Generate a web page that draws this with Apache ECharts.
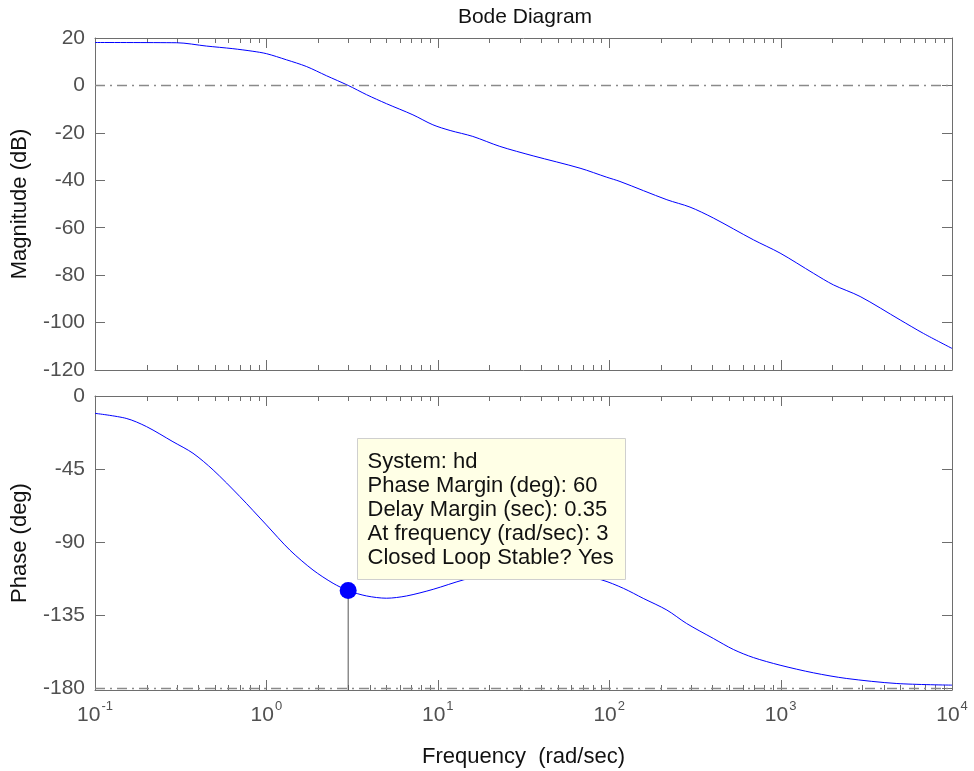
<!DOCTYPE html>
<html>
<head>
<meta charset="utf-8">
<script src="https://cdn.jsdelivr.net/npm/echarts@6/dist/echarts.min.js"></script>
<style>
html,body{margin:0;padding:0;background:#fff;}
#chart{width:974px;height:771px;}
</style>
</head>
<body>
<div id="chart"></div>
<script>
// ---- data ----
const magFreq = [0.1, 0.3, 0.447, 0.637, 0.834, 1, 1.31, 1.71, 2.24, 3, 3.84, 5.02, 7.16, 9.36, 11.8, 16, 23, 36, 67.6, 96.7, 115.6, 217, 296, 405, 694, 993, 1553, 2032, 2911, 4986, 6823, 10000];
const magDb   = [18.1, 18.0, 16.6, 15.5, 14.4, 13.4, 10.8, 8.0, 4.1, 0, -3.9, -7.7, -12.4, -16.6, -19, -21.5, -25.7, -29.7, -34.9, -38.7, -40.5, -48.2, -51.3, -55.9, -65.1, -70.7, -79.2, -84.1, -89.0, -98.9, -104.6, -110.9];
const phaseFreq = [0.1, 0.152, 0.2, 0.285, 0.373, 0.489, 0.7, 1, 1.37, 1.87, 2.45, 3, 3.84, 5.02, 6.58, 9.4, 14.1, 23, 34.4, 51.5, 90.4, 121, 158, 217, 283, 405, 530, 694, 993, 1553, 2432, 4764, 10000];
const phaseDeg  = [-10.7, -13.8, -18.9, -28.2, -35.3, -45.6, -62, -79.5, -95, -107.3, -115.5, -120, -123.3, -124.7, -123.3, -119.2, -113.4, -108, -106, -107.5, -113.4, -118.6, -124.8, -132, -140.3, -149.5, -156.3, -161.3, -166, -170.7, -174.2, -177.3, -178.3];
const marginPoint = [3, -120];
const magTicks = [20, 0, -20, -40, -60, -80, -100, -120];
const phaseTicks = [0, -45, -90, -135, -180];
const phaseAxisMin = -181.3; // MATLAB ylim sits slightly below -180
const freqDecades = [0.1, 1, 10, 100, 1000, 10000];
const decadeExponents = ['-1', '0', '1', '2', '3', '4'];
const infoLines = ['System: hd', 'Phase Margin (deg): 60', 'Delay Margin (sec): 0.35', 'At frequency (rad/sec): 3', 'Closed Loop Stable? Yes'];

// minor tick positions (2..9 within each decade)
const minorFreqs = [];
for (let e = -1; e <= 3; e++) for (let m = 2; m <= 9; m++) minorFreqs.push(+(m * Math.pow(10, e)).toPrecision(3));

const FONT = '"Liberation Sans", Arial, sans-serif';
const FRAME = '#6e6e6e';
const LABEL = '#505050';
const DASHDOT = [10, 5, 2, 5];

const chart = echarts.init(document.getElementById('chart'));

function xAx(gridIndex, position, showLabel) {
  return {
    type: 'log', logBase: 10, gridIndex, position, min: 0.1, max: 10000,
    axisLine: { show: true, onZero: false, lineStyle: { color: FRAME, width: 1 } },
    axisTick: { show: false },
    splitLine: { show: false },
    axisLabel: showLabel ? {
      show: true, margin: 10, fontFamily: FONT,
      formatter: function (v) {
        const idx = freqDecades.findIndex(d => Math.abs(Math.log10(d) - Math.log10(v)) < 1e-6);
        return idx >= 0 ? '{b|10}{s|' + decadeExponents[idx] + '}' : '';
      },
      rich: {
        b: { fontSize: 21, color: LABEL, fontFamily: FONT, lineHeight: 26, verticalAlign: 'bottom' },
        s: { fontSize: 13, color: LABEL, fontFamily: FONT, lineHeight: 26, verticalAlign: 'top', padding: [0, 0, 0, 1] }
      }
    } : { show: false },
    name: showLabel ? 'Frequency  (rad/sec)' : '',
    nameLocation: 'middle', nameGap: 56,
    nameTextStyle: { fontSize: 22, color: '#111', fontFamily: FONT }
  };
}
function yAx(gridIndex, position, min, max, ticks, name) {
  const left = position === 'left';
  return {
    type: 'value', gridIndex, position, min, max,
    axisLine: { show: true, onZero: false, lineStyle: { color: FRAME, width: 1 } },
    axisTick: { show: true, inside: true, length: 10, customValues: ticks, lineStyle: { color: FRAME } },
    splitLine: { show: false },
    axisLabel: left ? { show: true, margin: 10, fontSize: 21, color: LABEL, fontFamily: FONT, customValues: ticks } : { show: false },
    name: left ? name : '', nameLocation: 'middle', nameGap: 64,
    nameTextStyle: { fontSize: 22, color: '#111', fontFamily: FONT }
  };
}
function xTicks(xi, yi, yMin, yMax) {
  const items = minorFreqs.map(f => [f, yMin, 5]).concat(freqDecades.map(f => [f, yMin, 10]));
  return {
    type: 'custom', xAxisIndex: xi, yAxisIndex: yi, silent: true, clip: false, z: 1,
    data: items, encode: { x: 0, y: 1 },
    renderItem: function (params, api) {
      const f = api.value(0);
      const len = api.value(2);
      const b = api.coord([f, yMin]);
      const t = api.coord([f, yMax]);
      const x = Math.round(b[0]) + 0.5;
      return {
        type: 'group', children: [
          { type: 'line', shape: { x1: x, y1: b[1], x2: x, y2: b[1] - len }, style: { stroke: FRAME, lineWidth: 1 } },
          { type: 'line', shape: { x1: x, y1: t[1], x2: x, y2: t[1] + len }, style: { stroke: FRAME, lineWidth: 1 } }
        ]
      };
    }
  };
}

const option = {
  backgroundColor: '#ffffff',
  animation: false,
  title: { text: 'Bode Diagram', left: 520, textAlign: 'center', top: 2, textStyle: { fontSize: 21, fontWeight: 'normal', color: '#111', fontFamily: FONT } },
  grid: [
    { left: 95, right: 22, top: 38, height: 332 },
    { left: 95, right: 22, top: 396, height: 294 }
  ],
  xAxis: [xAx(0, 'bottom', false), xAx(0, 'top', false), xAx(1, 'bottom', true), xAx(1, 'top', false)],
  yAxis: [
    yAx(0, 'left', magTicks[magTicks.length - 1], magTicks[0], magTicks, 'Magnitude (dB)'),
    yAx(0, 'right', magTicks[magTicks.length - 1], magTicks[0], magTicks, ''),
    yAx(1, 'left', phaseAxisMin, phaseTicks[0], phaseTicks, 'Phase (deg)'),
    yAx(1, 'right', phaseAxisMin, phaseTicks[0], phaseTicks, '')
  ],
  series: [
    {
      type: 'line', xAxisIndex: 0, yAxisIndex: 0, showSymbol: false, smooth: 0.3,
      data: magFreq.map((f, i) => [f, magDb[i]]),
      lineStyle: { color: '#0000ff', width: 1 },
      markLine: { silent: true, symbol: 'none', label: { show: false },
        lineStyle: { color: '#8a8a8a', type: DASHDOT, width: 1.3 }, data: [{ yAxis: 0 }] }
    },
    {
      type: 'line', xAxisIndex: 2, yAxisIndex: 2, showSymbol: false, smooth: 0.3,
      data: phaseFreq.map((f, i) => [f, phaseDeg[i]]),
      lineStyle: { color: '#0000ff', width: 1 },
      markLine: { silent: true, symbol: 'none', label: { show: false },
        lineStyle: { color: '#8a8a8a', type: DASHDOT, width: 1.3 }, data: [{ yAxis: -180 }] }
    },
    {
      type: 'line', xAxisIndex: 2, yAxisIndex: 2, showSymbol: false, z: 3,
      data: [[marginPoint[0], marginPoint[1]], [marginPoint[0], phaseAxisMin]],
      lineStyle: { color: '#555', width: 1 }
    },
    {
      type: 'scatter', xAxisIndex: 2, yAxisIndex: 2, symbol: 'circle', symbolSize: 17, z: 4,
      data: [marginPoint], itemStyle: { color: '#0000ff', opacity: 1 }
    },
    xTicks(0, 0, magTicks[magTicks.length - 1], magTicks[0]),
    xTicks(2, 2, phaseAxisMin, phaseTicks[0])
  ],
  graphic: [
    {
      type: 'group', left: 357, top: 438, zlevel: 1, z: 100,
      children: [
        { type: 'rect', zlevel: 1, z: 100, shape: { x: 0, y: 0, width: 268, height: 141 }, style: { fill: '#ffffe6', stroke: '#cfcfcf', lineWidth: 1 } },
        { type: 'text', zlevel: 1, z: 101, x: 10, y: 11, style: { text: infoLines.join('\n'), font: '22px ' + FONT, fill: '#111', lineHeight: 24.2 } }
      ]
    }
  ]
};
chart.setOption(option);
</script>
</body>
</html>
